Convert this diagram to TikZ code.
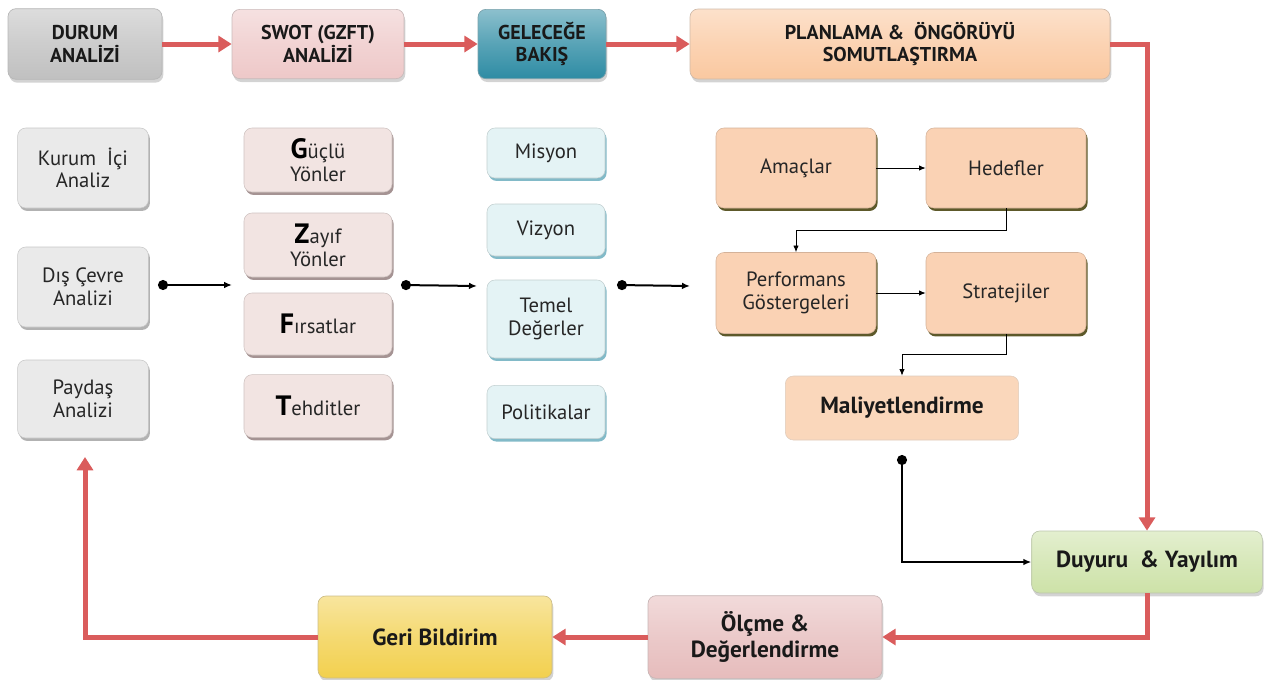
\documentclass[tikz,border=0pt]{standalone}
\usepackage{fontspec}
\setmainfont{PT Sans}
\usetikzlibrary{shadows,arrows.meta}

\definecolor{durumgray}{RGB}{192,192,192}
\definecolor{swotpink}{RGB}{238,200,200}
\definecolor{gelteal}{RGB}{46,140,164}
\definecolor{planpeach}{RGB}{250,200,160}
\definecolor{colgray}{RGB}{234,234,234}
\definecolor{colpink}{RGB}{242,228,226}
\definecolor{colblue}{RGB}{228,243,245}
\definecolor{colorange}{RGB}{250,210,180}
\definecolor{duyurugreen}{RGB}{205,226,168}
\definecolor{olcmepink}{RGB}{230,188,188}
\definecolor{geriyellow}{RGB}{242,208,78}
\definecolor{flowred}{RGB}{218,92,92}

\tikzset{every picture/.style={line width=0.75pt}}
\tikzset{
  box/.style={rounded corners=6pt, align=center, inner sep=2pt, text=black!85,
    font=\fontsize{15.5}{17}\selectfont},
  topbox/.style={box, draw=#1!70!black!60, line width=0.5pt, text=black!90,
    top color=#1!55!white, bottom color=#1, middle color=#1!80!white,
    drop shadow={shadow xshift=1pt, shadow yshift=-2.5pt, opacity=0.35},
    font=\bfseries\fontsize{15}{17}\selectfont},
  loopfont/.style={font=\bfseries\fontsize{17.5}{20}\selectfont},
  colbox/.style 2 args={box, fill=#1, draw=#1!85!black, line width=0.4pt,
    drop shadow={shadow xshift=1.2pt, shadow yshift=-2.2pt, fill=#2, opacity=1}},
  redarrow/.style={draw=flowred, line width=3.75pt,
    -{Triangle[length=10pt,width=12pt]}},
  dotarrow/.style={line width=1.5pt, {Circle[length=7.5pt]}-{Latex[length=6pt,width=5pt]}},
  thinarrow/.style={line width=0.6pt, -{Latex[length=5pt,width=4pt]}}
}
\newcommand{\biglet}[1]{{\bfseries\fontsize{21}{21}\selectfont\color{black}#1}}

\begin{document}
\begin{tikzpicture}[x=0.75pt,y=0.75pt,yscale=-1,xscale=1]
  \useasboundingbox (0,0) rectangle (1265,679);

  % top row
  \node[topbox=durumgray, minimum width=115.5pt, minimum height=53pt] (durum) at (85,44) {DURUM\\ANALİZİ};
  \node[topbox=swotpink, minimum width=129pt, minimum height=52pt] (swot) at (318,44) {SWOT (GZFT)\\ANALİZİ};
  \node[topbox=gelteal, minimum width=96pt, minimum height=52pt] (gelecek) at (542,44) {GELECEĞE\\BAKIŞ};
  \node[topbox=planpeach, minimum width=315pt, minimum height=52.5pt] (plan) at (900,44) {PLANLAMA \&\ \ ÖNGÖRÜYÜ\\SOMUTLAŞTIRMA};

  % durum analizi column
  \node[colbox={colgray}{black!30}, minimum width=98pt, minimum height=60pt] (kurum) at (83,168) {Kurum\ \ İçi\\Analiz};
  \node[colbox={colgray}{black!30}, minimum width=98pt, minimum height=60pt] (dis) at (83,287) {Dış Çevre\\Analizi};
  \node[colbox={colgray}{black!30}, minimum width=98pt, minimum height=58.5pt] (paydas) at (83,399) {Paydaş\\Analizi};

  % swot column
  \node[colbox={colpink}{swotpink!60!black!80}, minimum width=111pt, minimum height=48pt] (guclu) at (318,160) {\biglet{G}üçlü\\Yönler};
  \node[colbox={colpink}{swotpink!60!black!80}, minimum width=111pt, minimum height=48pt] (zayif) at (318,245) {\biglet{Z}ayıf\\Yönler};
  \node[colbox={colpink}{swotpink!60!black!80}, minimum width=111pt, minimum height=46.5pt] (firsat) at (318,324) {\biglet{F}ırsatlar};
  \node[colbox={colpink}{swotpink!60!black!80}, minimum width=111pt, minimum height=47pt] (tehdit) at (318,406) {\biglet{T}ehditler};

  % gelecege bakis column
  \node[colbox={colblue}{gelteal!60!white}, minimum width=88.5pt, minimum height=37.5pt] (misyon) at (546,153) {Misyon};
  \node[colbox={colblue}{gelteal!60!white}, minimum width=88.5pt, minimum height=39pt] (vizyon) at (546,230) {Vizyon};
  \node[colbox={colblue}{gelteal!60!white}, minimum width=88.5pt, minimum height=58.5pt] (temel) at (546,319) {Temel\\Değerler};
  \node[colbox={colblue}{gelteal!60!white}, minimum width=88.5pt, minimum height=40pt] (politika) at (546,412) {Politikalar};

  % planlama column
  \node[colbox={colorange}{black!45!olive}, minimum width=120pt, minimum height=60pt] (amac) at (796,168) {Amaçlar};
  \node[colbox={colorange}{black!45!olive}, minimum width=120pt, minimum height=60pt] (hedef) at (1006,168) {Hedefler};
  \node[colbox={colorange}{black!45!olive}, minimum width=120pt, minimum height=60.75pt] (perf) at (796,293) {Performans\\Göstergeleri};
  \node[colbox={colorange}{black!45!olive}, minimum width=120pt, minimum height=60.75pt] (strat) at (1006,293) {Stratejiler};
  \node[box, loopfont, fill=colorange!90!white, draw=colorange!80!black!60, line width=0.4pt, text=black!90,
    minimum width=175pt, minimum height=48pt] (maliyet) at (902,408) {Maliyetlendirme};

  % bottom loop
  \node[topbox=duyurugreen, loopfont, minimum width=173pt, minimum height=46.5pt] (duyuru) at (1147,562) {Duyuru\ \ \& Yayılım};
  \node[topbox=olcmepink, loopfont, minimum width=175.5pt, minimum height=62pt] (olcme) at (765,637) {Ölçme \&\\Değerlendirme};
  \node[topbox=geriyellow, loopfont, minimum width=175.5pt, minimum height=61.5pt] (geri) at (435,637) {Geri Bildirim};

  % free ends
  \coordinate (d1) at (158,285);
  \coordinate (d1e) at (232,285);
  \coordinate (d2) at (401,285);
  \coordinate (d2e) at (477,286);
  \coordinate (d3) at (617,285);
  \coordinate (d3e) at (690,286);
  \coordinate (md) at (902,455);
  \coordinate (fb) at (85,457);

  % red flow
  \draw[redarrow] (durum) -- (swot);
  \draw[redarrow] (swot) -- (gelecek);
  \draw[redarrow] (gelecek) -- (plan);
  \draw[redarrow] (plan.east) -| (duyuru.north);
  \draw[redarrow] (duyuru.south) |- (olcme.east);
  \draw[redarrow] (olcme) -- (geri);
  \draw[redarrow] (geri.west) -| (fb);

  % black connectors
  \draw[dotarrow] (d1) -- (d1e);
  \draw[dotarrow] (d2) -- (d2e);
  \draw[dotarrow] (d3) -- (d3e);
  \draw[dotarrow] (md) |- (duyuru.west);
  \draw[thinarrow] (amac) -- (hedef);
  \draw[thinarrow] (hedef.south) -- ++(0,22) -| (perf.north);
  \draw[thinarrow] (perf) -- (strat);
  \draw[thinarrow] (strat.south) -- ++(0,21) -| (maliyet.north);

\end{tikzpicture}
\end{document}
